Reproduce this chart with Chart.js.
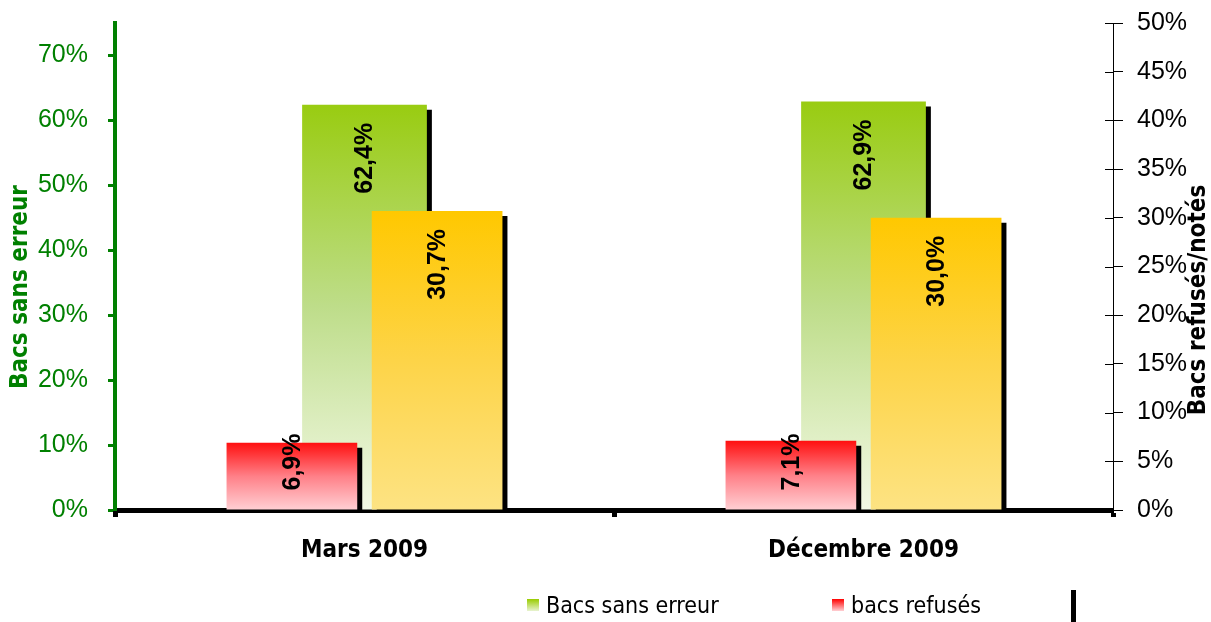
<!DOCTYPE html>
<html>
<head>
<meta charset="utf-8">
<script src="https://cdn.jsdelivr.net/npm/chart.js@4.4.1/dist/chart.umd.min.js"></script>
<style>
  html, body { margin: 0; padding: 0; background: #fff; }
  #wrap { width: 1211px; height: 622px; position: relative; }
</style>
</head>
<body>
<div id="wrap"><canvas id="bacs"></canvas></div>
<script>
// ── Data ───────────────────────────────────────────────
const categories  = ['Mars 2009', 'Décembre 2009'];
const sansErreur  = [62.4, 62.9];   // left axis
const refuses     = [6.9, 7.1];     // right axis
const notes       = [30.7, 30.0];   // right axis
const seriesNames = ['Bacs sans erreur', 'bacs refusés', 'bacs notés'];
const leftMax = 75, leftStep = 10;
const rightMax = 50, rightStep = 5;

const COND  = '"DejaVu Sans Condensed", "DejaVu Sans", sans-serif';
const ARIAL = '"Liberation Sans", Arial, sans-serif';
const GREEN_AXIS = '#008000';

const fmt = v => v.toFixed(1).replace('.', ',') + '%';

// vertical gradient spanning the bar itself
function barGradient(stops) {
  return (c) => {
    const chart = c.chart;
    if (!chart.chartArea || c.raw == null) return stops[0];
    const ys = chart.scales[c.dataset.yAxisID];
    const top = ys.getPixelForValue(c.raw);
    const bot = ys.getPixelForValue(0);
    const g = chart.ctx.createLinearGradient(0, top, 0, bot);
    stops.forEach((s, i) => g.addColorStop(i / (stops.length - 1), s));
    return g;
  };
}

// fixed axis widths, no extra room for the end labels
const fixWidth = w => (s) => { s.width = w; s.paddingTop = 0; s.paddingBottom = 0; };

// ── Plugins ────────────────────────────────────────────
const shadowPlugin = {
  id: 'barShadow',
  beforeDatasetDraw(chart) {
    const ctx = chart.ctx;
    ctx.save();
    ctx.shadowColor = '#000';
    ctx.shadowOffsetX = 5;
    ctx.shadowOffsetY = 5;
    ctx.shadowBlur = 0;
  },
  afterDatasetDraw(chart) { chart.ctx.restore(); }
};

const labelPlugin = {
  id: 'vLabels',
  afterDatasetsDraw(chart) {
    const ctx = chart.ctx;
    ctx.save();
    ctx.font = 'bold 25px ' + ARIAL;
    ctx.fillStyle = '#000';
    ctx.textAlign = 'right';
    ctx.textBaseline = 'middle';
    chart.data.datasets.forEach((ds, di) => {
      chart.getDatasetMeta(di).data.forEach((bar, i) => {
        const txt = fmt(ds.data[i]);
        const w = ctx.measureText(txt).width;
        const upper = Math.min(bar.y + 18, bar.base - 19 - w);
        ctx.save();
        ctx.translate(bar.x + 1, upper);
        ctx.rotate(-Math.PI / 2);
        ctx.fillText(txt, 0, 0);
        ctx.restore();
      });
    });
    ctx.restore();
  }
};

const decorPlugin = {
  id: 'decor',
  afterDraw(chart) {
    const ctx = chart.ctx;
    const a = chart.chartArea;
    ctx.save();
    // inner half of the crossing ticks on the right axis
    const y2 = chart.scales.y2;
    ctx.strokeStyle = '#000';
    ctx.lineWidth = 1;
    y2.ticks.forEach(t => {
      const py = Math.round(y2.getPixelForValue(t.value)) + 0.5;
      ctx.beginPath();
      ctx.moveTo(a.right - 8, py);
      ctx.lineTo(a.right, py);
      ctx.stroke();
    });
    // axis titles, both reading bottom to top
    ctx.textAlign = 'center';
    ctx.textBaseline = 'middle';
    ctx.font = 'bold 24px ' + COND;
    ctx.fillStyle = GREEN_AXIS;
    ctx.save();
    ctx.translate(21, 287);
    ctx.rotate(-Math.PI / 2);
    ctx.fillText('Bacs sans erreur', 0, 0);
    ctx.restore();
    ctx.fillStyle = '#000';
    ctx.save();
    ctx.translate(1199, 300);
    ctx.rotate(-Math.PI / 2);
    ctx.fillText('Bacs refusés/notés', 0, 0);
    ctx.restore();

    // legend
    ctx.textAlign = 'left';
    ctx.textBaseline = 'alphabetic';
    ctx.font = '23px ' + COND;
    const items = [
      { name: seriesNames[0], x: 527, stops: ['#99CC00', '#E8F3D0'] },
      { name: seriesNames[1], x: 832, stops: ['#FF0000', '#FFD0D4'] }
    ];
    items.forEach(it => {
      const g = ctx.createLinearGradient(0, 599, 0, 611);
      g.addColorStop(0, it.stops[0]);
      g.addColorStop(1, it.stops[1]);
      ctx.fillStyle = g;
      ctx.fillRect(it.x, 599, 12, 12);
      ctx.fillStyle = '#000';
      ctx.fillText(it.name, it.x + 19, 613);
    });
    ctx.fillStyle = '#000';
    ctx.fillRect(1071, 590, 5, 32);
    ctx.restore();
  }
};

// ── Chart ──────────────────────────────────────────────
new Chart(document.getElementById('bacs'), {
  type: 'bar',
  data: {
    labels: categories,
    datasets: [
      { label: seriesNames[1], data: refuses, yAxisID: 'y2', order: 0,
        categoryPercentage: 0.582, barPercentage: 0.9, clip: 0,
        backgroundColor: barGradient(['#FF1010', '#FF8088', '#FFD0D4']) },
      { label: seriesNames[0], data: sansErreur, yAxisID: 'y', order: 1,
        grouped: false, categoryPercentage: 0.25, barPercentage: 1, clip: 0,
        backgroundColor: barGradient(['#99CC11', '#BEDD8A', '#F3F9E6']) },
      { label: seriesNames[2], data: notes, yAxisID: 'y2', order: 0,
        categoryPercentage: 0.582, barPercentage: 0.9, clip: 0,
        backgroundColor: barGradient(['#FFC800', '#FDD448', '#FDE383']) },
    ],
  },
  options: {
    responsive: true, maintainAspectRatio: false, animation: false,
    layout: { padding: { top: 23, bottom: 62, left: 0, right: 0 } },
    plugins: { legend: { display: false }, tooltip: { enabled: false } },
    elements: { bar: { borderWidth: 0 } },
    scales: {
      x: {
        z: 1,
        afterFit(s) { s.height = 50; s.paddingLeft = 0; s.paddingRight = 0; },
        border: { color: '#000', width: 5 },
        grid: { drawOnChartArea: false, tickLength: 7, tickWidth: 5, tickColor: '#000' },
        ticks: { color: '#000', padding: 19, font: { family: COND, size: 24, weight: 'bold' } },
      },
      y: {
        position: 'left', min: 0, max: leftMax,
        afterFit: fixWidth(115),
        border: { color: GREEN_AXIS, width: 4 },
        grid: { drawOnChartArea: false, tickLength: 7, tickWidth: 3, tickColor: GREEN_AXIS },
        ticks: { stepSize: leftStep, includeBounds: false, padding: 20, color: GREEN_AXIS,
                 font: { family: ARIAL, size: 25 }, callback: v => v + '%' },
      },
      y2: {
        position: 'right', min: 0, max: rightMax,
        afterFit: fixWidth(98),
        border: { color: '#000', width: 1 },
        grid: { drawOnChartArea: false, tickLength: 10, tickWidth: 1, tickColor: '#000' },
        ticks: { stepSize: rightStep, padding: 14, color: '#000',
                 font: { family: ARIAL, size: 25 }, callback: v => v + '%' },
      },
    },
  },
  plugins: [shadowPlugin, labelPlugin, decorPlugin],
});
</script>
</body>
</html>
